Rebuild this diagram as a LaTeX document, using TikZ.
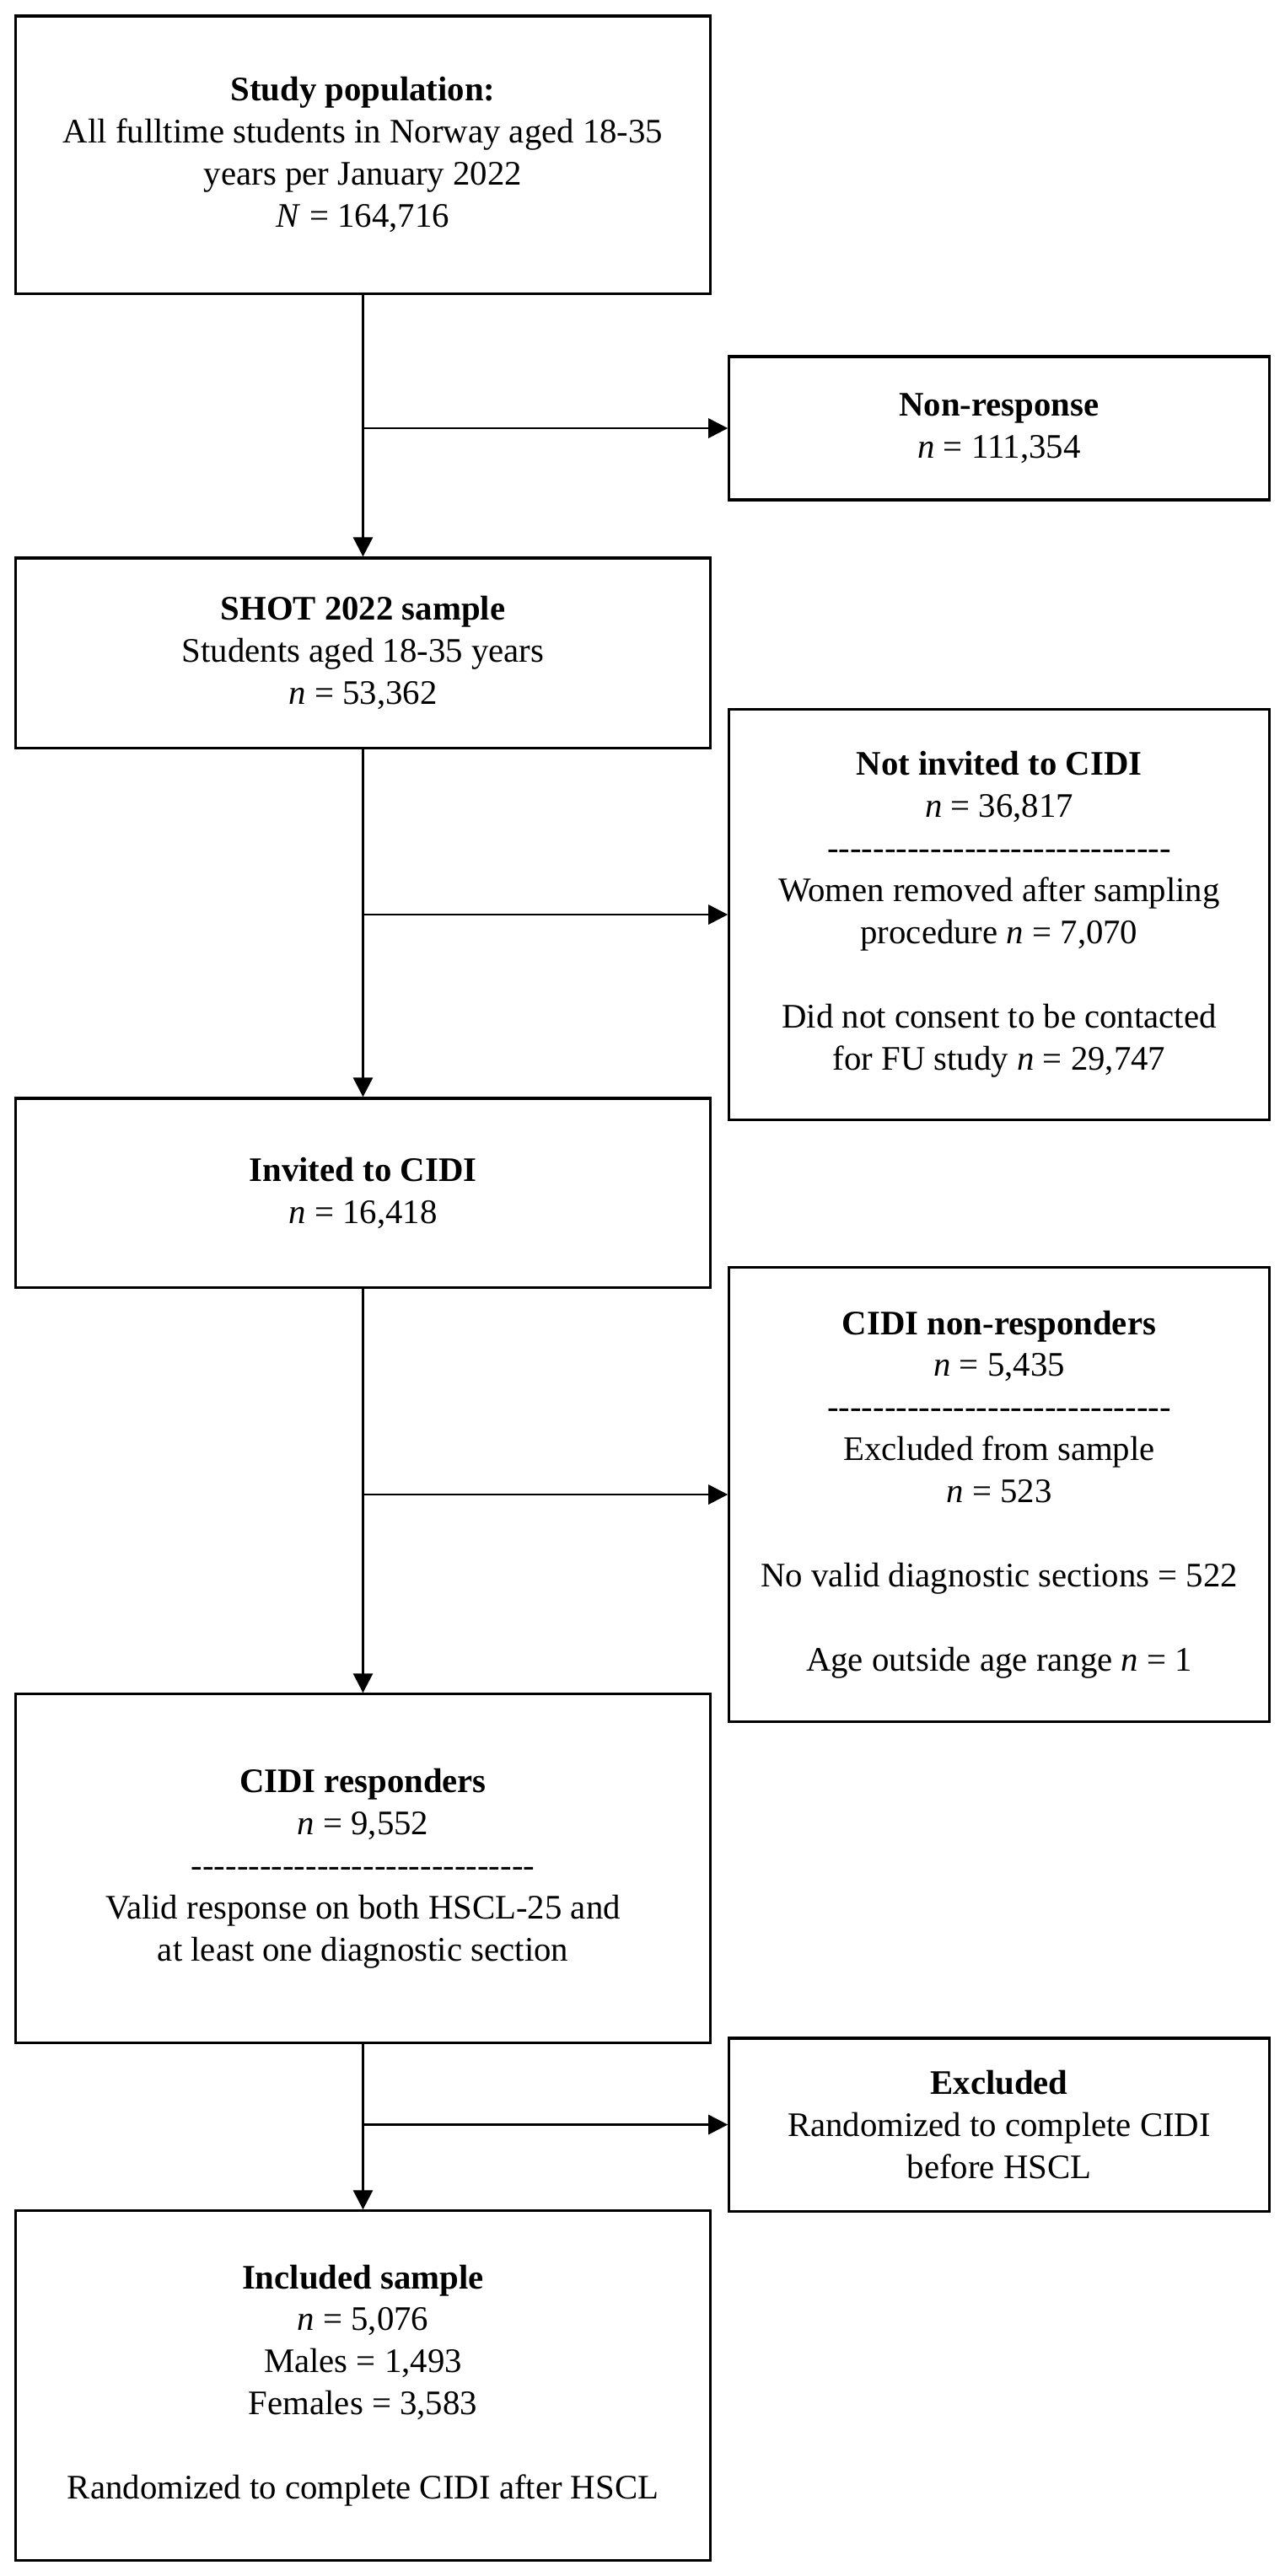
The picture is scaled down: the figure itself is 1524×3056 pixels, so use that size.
\documentclass[tikz,border=0pt]{standalone}
\usepackage{fontspec}
\setmainfont{Liberation Serif}
\newfontfamily\dashfont{Liberation Serif}
\usetikzlibrary{arrows.meta}
\newcommand{\dashrule}{{\dashfont ------------------------------}}

\begin{document}
\begin{tikzpicture}[x=0.01cm,y=-0.01cm,
  flowbox/.style={draw=black, line width=0.9pt, align=center, inner sep=0pt,
    minimum width=8.23cm, font=\fontsize{11.6pt}{14.2pt}\selectfont},
  sidebox/.style={flowbox, minimum width=6.4cm},
  arr/.style={line width=0.8pt, -{Triangle[length=0.23cm,width=0.23cm]}}]
\useasboundingbox (0,0) rectangle (1524,3056);

\node[flowbox, minimum height=3.29cm] (pop) at (430.5,183.5)
  {\textbf{Study population:}\\ All fulltime students in Norway aged 18-35\\ years per January 2022\\ \textit{N} = 164,716};
\node[sidebox, minimum height=1.70cm] (nonresp) at (1185,508)
  {\textbf{Non-response}\\ \textit{n} = 111,354};

\node[flowbox, minimum height=2.25cm] (shot) at (430.5,774.5)
  {\textbf{SHOT 2022 sample}\\ Students aged 18-35 years\\ \textit{n} = 53,362};
\node[sidebox, minimum height=4.86cm] (notinv) at (1185,1085)
  {\textbf{Not invited to CIDI}\\ \textit{n} = 36,817\\ \dashrule\\ Women removed after sampling\\ procedure \textit{n} = 7,070\\[14.2pt] Did not consent to be contacted\\ for FU study \textit{n} = 29,747};

\node[flowbox, minimum height=2.24cm] (invited) at (430.5,1415)
  {\textbf{Invited to CIDI}\\ \textit{n} = 16,418};
\node[sidebox, minimum height=5.38cm] (cidinon) at (1185,1773)
  {\textbf{CIDI non-responders}\\ \textit{n} = 5,435\\ \dashrule\\ Excluded from sample\\ \textit{n} = 523\\[14.2pt] No valid diagnostic sections = 522\\[14.2pt] Age outside age range \textit{n} = 1};

\node[flowbox, minimum height=4.13cm] (cidiresp) at (430.5,2216.5)
  {\textbf{CIDI responders}\\ \textit{n} = 9,552\\ \dashrule\\ Valid response on both HSCL-25 and\\ at least one diagnostic section};
\node[sidebox, minimum height=2.05cm] (excl) at (1185,2520.5)
  {\textbf{Excluded}\\ Randomized to complete CIDI\\ before HSCL};

\node[flowbox, minimum height=4.14cm] (incl) at (430.5,2830)
  {\textbf{Included sample}\\ \textit{n} = 5,076\\ Males = 1,493\\ Females = 3,583\\[14.2pt] Randomized to complete CIDI after HSCL};

\coordinate (j1) at (pop.south |- nonresp.west);
\coordinate (j2) at (pop.south |- notinv.west);
\coordinate (j3) at (pop.south |- cidinon.west);
\coordinate (j4) at (pop.south |- excl.west);

\draw[arr] (pop.south) -- (shot.north);
\draw[arr] (j1) -- (nonresp.west);
\draw[arr] (shot.south) -- (invited.north);
\draw[arr] (j2) -- (notinv.west);
\draw[arr] (invited.south) -- (cidiresp.north);
\draw[arr] (j3) -- (cidinon.west);
\draw[arr] (cidiresp.south) -- (incl.north);
\draw[arr] (j4) -- (excl.west);
\end{tikzpicture}
\end{document}
